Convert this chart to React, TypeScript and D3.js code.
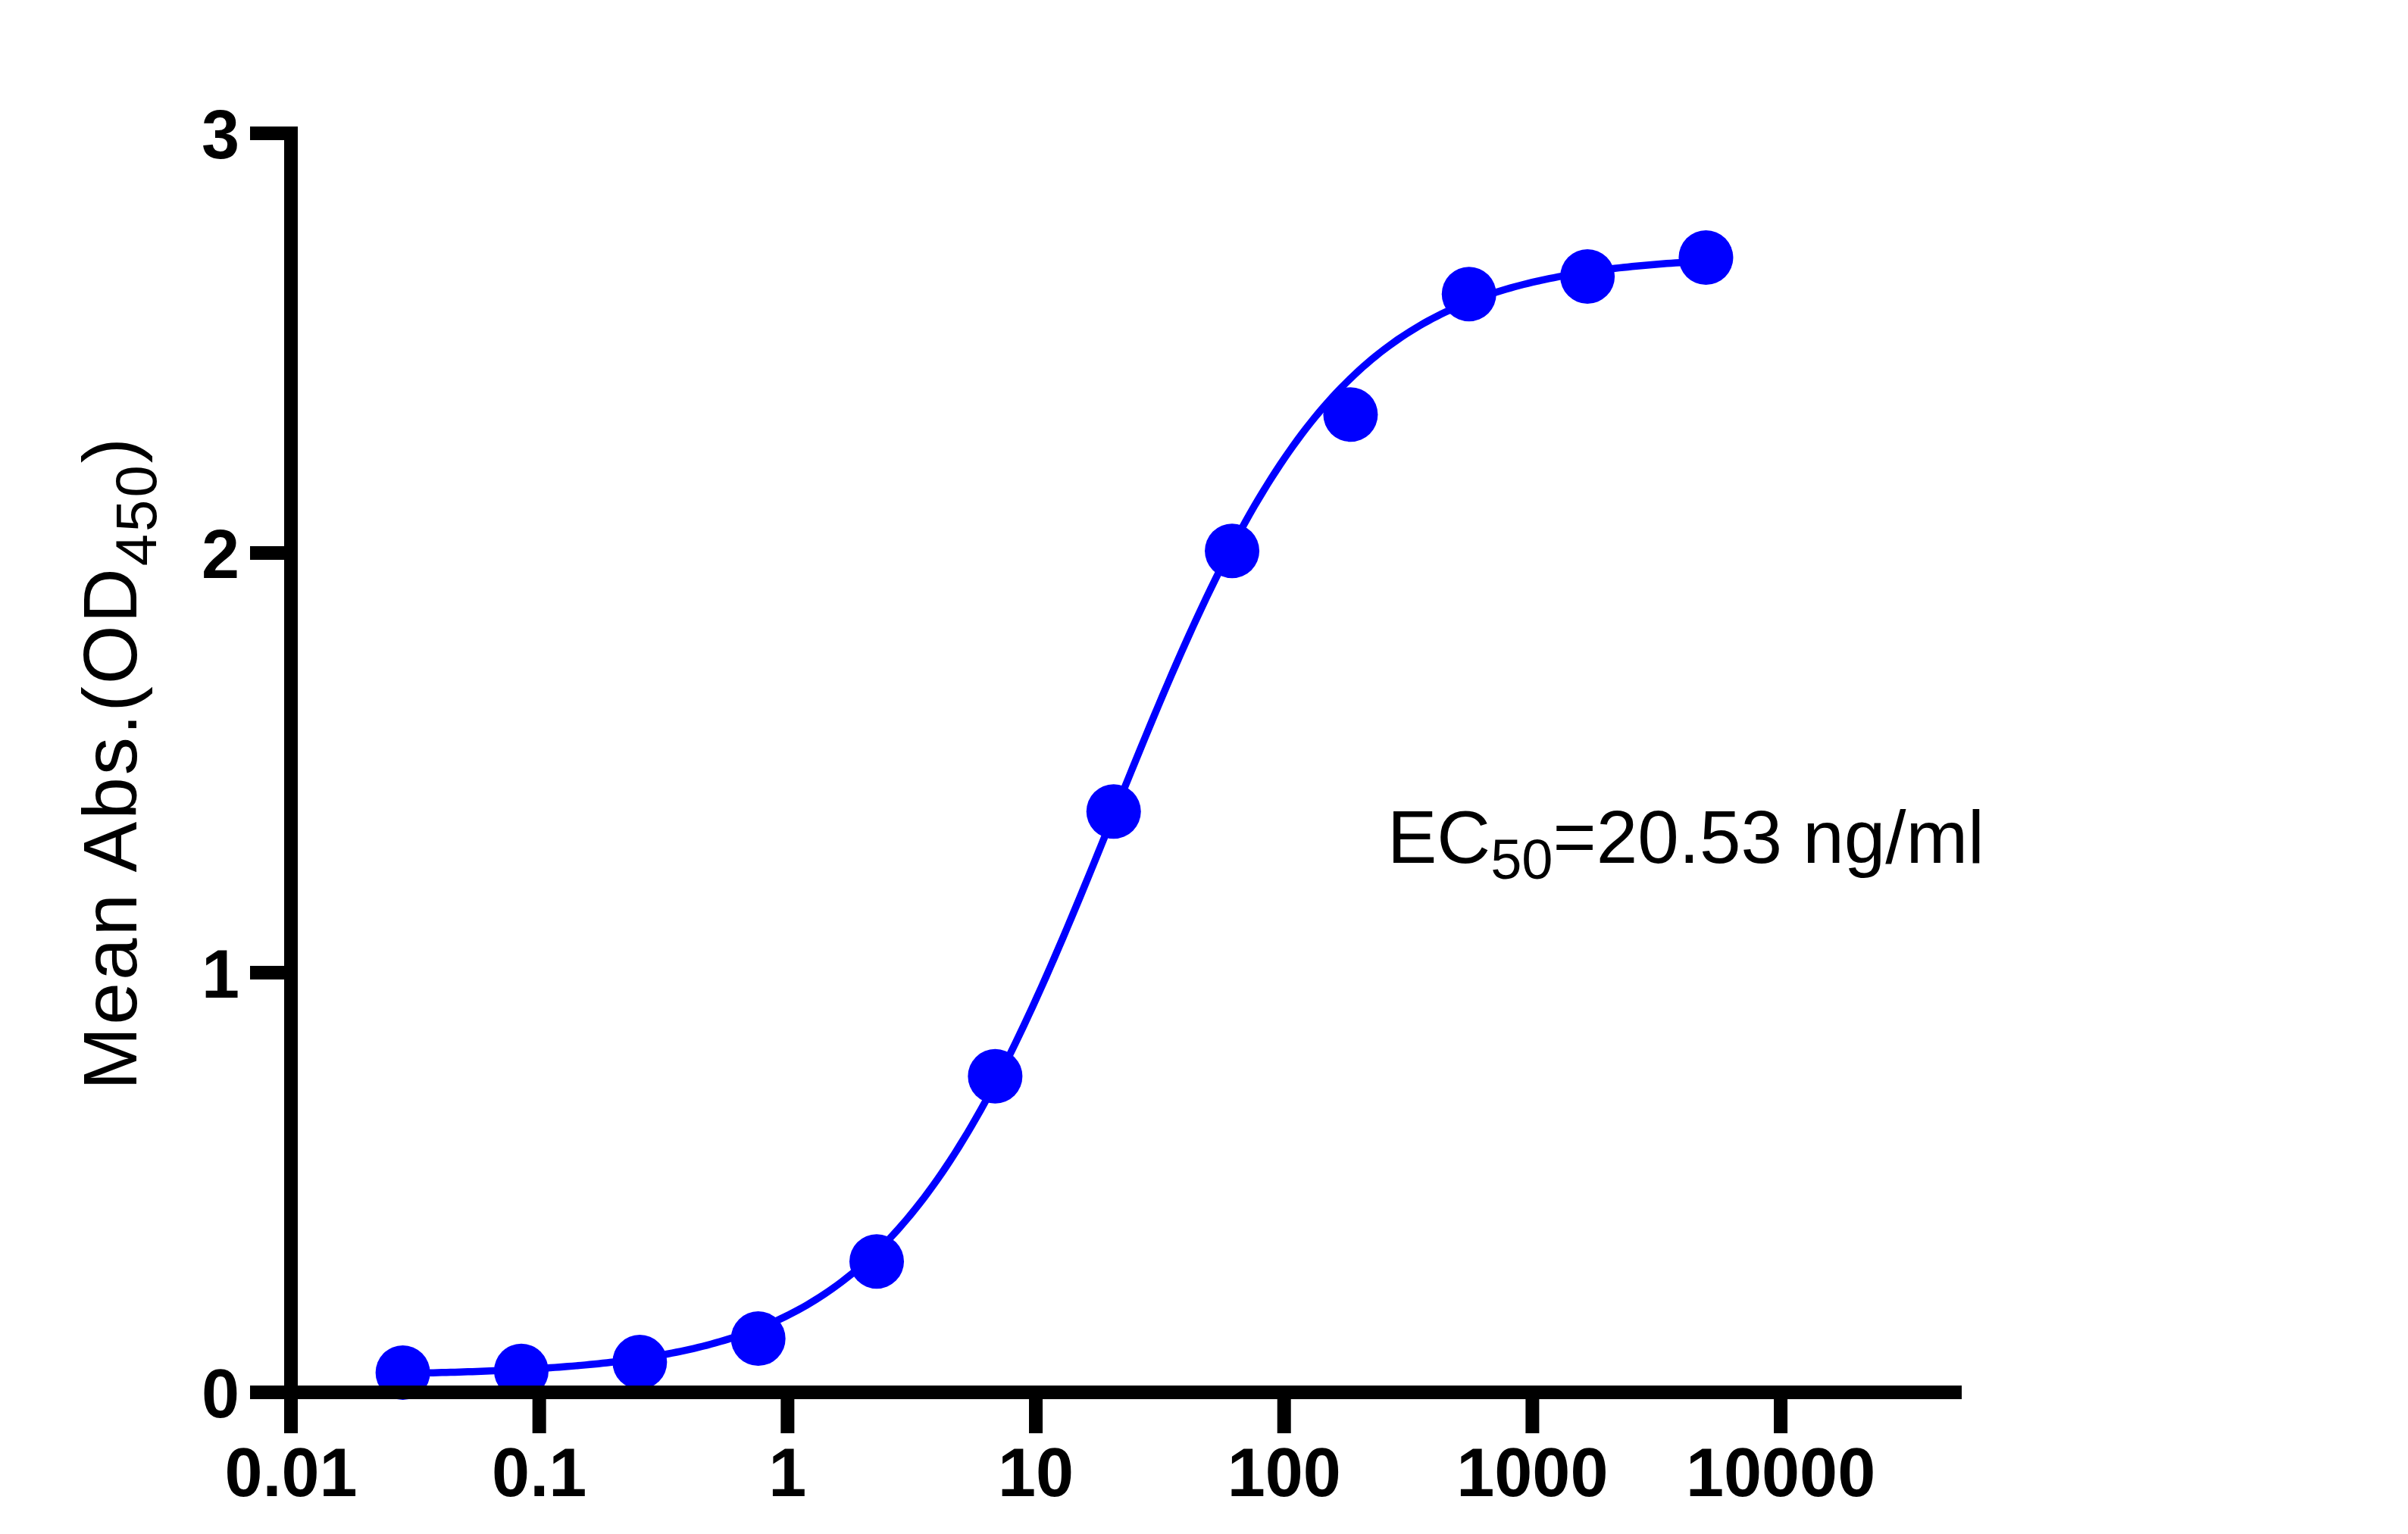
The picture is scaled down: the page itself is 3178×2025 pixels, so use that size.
import * as d3 from "d3";

// 3-fold dilution series, ng/ml
const concentrations = [
  0.02822, 0.08467, 0.254, 0.762, 2.286, 6.859, 20.58, 61.73, 185.2, 555.6,
  1666.7, 5000,
];
const meanAbs = [
  0.047, 0.051, 0.072, 0.128, 0.312, 0.753, 1.384, 2.005, 2.33, 2.617, 2.659,
  2.704,
];

const xTicks = [0.01, 0.1, 1, 10, 100, 1000, 10000];
const xTickLabels = ["0.01", "0.1", "1", "10", "100", "1000", "10000"];
const yTicks = [0, 1, 2, 3];

// four-parameter logistic fit shown on the plot
const fitBottom = 0.04;
const fitTop = 2.71;
const fitEC50 = 20.53;
const fitHill = 0.95;

const width = 3178;
const height = 2025;
const font = "'Liberation Sans', Arial, sans-serif";
const blue = "#0000ff";
const axisWidth = 18;
const tickLen = 54;

const App = () => {
  const x = d3.scaleLog().domain([0.01, 53600]).range([384, 2589]);
  const y = d3.scaleLinear().domain([0, 3]).range([1838, 176]);

  const fit = (c: number) =>
    fitBottom + (fitTop - fitBottom) / (1 + Math.pow(fitEC50 / c, fitHill));

  const logMin = Math.log10(concentrations[0]);
  const logMax = Math.log10(concentrations[concentrations.length - 1]);
  const curvePts: [number, number][] = d3
    .range(0, 301)
    .map((i) => Math.pow(10, logMin + ((logMax - logMin) * i) / 300))
    .map((c) => [x(c), y(fit(c))]);
  const curvePath = d3.line()(curvePts) ?? "";

  const x0 = x(0.01);
  const y0 = y(0);

  return (
    <div>
      <style>{`body{margin:0}`}</style>
      <svg width={width} height={height} style={{ display: "block", background: "#fff" }}>
        {/* fitted curve */}
        <path d={curvePath} fill="none" stroke={blue} strokeWidth={9.5} />
        {concentrations.map((c, i) => (
          <circle key={i} cx={x(c)} cy={y(meanAbs[i])} r={36} fill={blue} />
        ))}

        {/* y axis */}
        <line
          x1={x0}
          x2={x0}
          y1={y(3) - axisWidth / 2}
          y2={y0 + axisWidth / 2}
          stroke="#000"
          strokeWidth={axisWidth}
        />
        {yTicks.map((t) => (
          <g key={t}>
            <line
              x1={x0 - tickLen}
              x2={x0}
              y1={y(t)}
              y2={y(t)}
              stroke="#000"
              strokeWidth={axisWidth}
            />
            <text
              x={316}
              y={y(t) + 33}
              textAnchor="end"
              fontFamily={font}
              fontWeight="bold"
              fontSize={90}
            >
              {t}
            </text>
          </g>
        ))}

        {/* x axis */}
        <line
          x1={x0}
          x2={x.range()[1]}
          y1={y0}
          y2={y0}
          stroke="#000"
          strokeWidth={axisWidth}
        />
        {xTicks.map((t, i) => (
          <g key={t}>
            <line
              x1={x(t)}
              x2={x(t)}
              y1={y0}
              y2={y0 + tickLen}
              stroke="#000"
              strokeWidth={axisWidth}
            />
            <text
              x={x(t)}
              y={1975}
              textAnchor="middle"
              fontFamily={font}
              fontWeight="bold"
              fontSize={90}
            >
              {xTickLabels[i]}
            </text>
          </g>
        ))}

        {/* y axis title */}
        <text
          transform={`translate(180, ${(y(0) + y(3)) / 2}) rotate(-90)`}
          textAnchor="middle"
          fontFamily={font}
          fontSize={100}
          letterSpacing={3}
        >
          Mean Abs.(OD
          <tspan fontSize={76} dy={26}>
            450
          </tspan>
          <tspan dy={-26}>)</tspan>
        </text>

        {/* EC50 annotation */}
        <text x={1831} y={1139} fontFamily={font} fontSize={98}>
          EC
          <tspan fontSize={74} dy={21}>
            50
          </tspan>
          <tspan dy={-21}>=20.53 ng/ml</tspan>
        </text>
      </svg>
    </div>
  );
};

export default App;
